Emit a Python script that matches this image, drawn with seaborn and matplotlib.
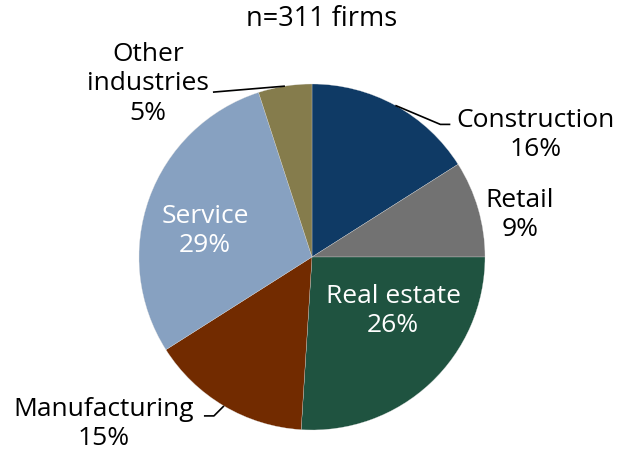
import numpy as np
import matplotlib
matplotlib.use('Agg')
import matplotlib.pyplot as plt
import seaborn as sb

# Industry split of the surveyed firms (percent)
industries = ["Construction", "Retail", "Real estate", "Manufacturing", "Service", "Other\nindustries"]
shares = [16, 9, 26, 15, 29, 5]
colors = ["#0F3A65", "#727272", "#1F5340", "#722B00", "#87A1C1", "#857C4C"]
title = "n=311 firms"

sb.set_theme(style="white")
plt.rcParams['font.family'] = ['Open Sans', 'DejaVu Sans']
plt.rcParams['text.color'] = 'black'

W, H = 617, 452
cx, cy, r = 312, 258, 173  # pie centre / radius in pixels

fig = plt.figure(figsize=(W / 100, H / 100), dpi=100, facecolor="white")
ax = fig.add_axes([(cx - r) / W, (H - cy - r) / H, 2 * r / W, 2 * r / H])

wedges, _ = ax.pie(shares, colors=colors, startangle=90, counterclock=False, radius=1.0,
                   wedgeprops={"linewidth": 0.2, "edgecolor": "#dddddd"})
ax.set_xlim(-1, 1)
ax.set_ylim(-1, 1)
ax.set_aspect("equal")
ax.axis("off")


def px(x, y):
    # pixel position -> data coordinates of the pie axes
    return (x - cx) / r, (cy - y) / r


def edge(w):
    a = np.deg2rad((w.theta1 + w.theta2) / 2)
    return np.cos(a), np.sin(a)


fs = 19
# label placement: (position in pixels, colour, leader elbow offsets in pixels)
label_pos = {
    "Construction": ((536, 135), "black", [(45, 19), (55, 19)]),
    "Retail": ((520, 215), "black", None),
    "Real estate": ((393, 311), "white", None),
    "Manufacturing": ((104, 424), "black", [(-10, 10), (-20, 10)]),
    "Service": ((205, 231), "white", None),
    "Other\nindustries": ((148, 84), "black", [(-72, 6)]),
}

for w, name, val in zip(wedges, industries, shares):
    (lx, ly), col, leader = label_pos[name]
    tx, ty = px(lx, ly)
    ax.text(tx, ty, f"{name}\n{val}%", ha="center", va="center", color=col,
            fontsize=fs, linespacing=1.22, clip_on=False)
    if leader:
        ex, ey = edge(w)
        xs = [ex] + [ex + dx / r for dx, dy in leader]
        ys = [ey] + [ey - dy / r for dx, dy in leader]
        ax.plot(xs, ys, color="black", lw=1.2, clip_on=False, solid_capstyle="butt")

fig.text(322 / W, 1 - 19 / H, title, ha="center", va="center", fontsize=19.5)

plt.savefig("out.png", dpi=100, facecolor="white")
plt.close()
